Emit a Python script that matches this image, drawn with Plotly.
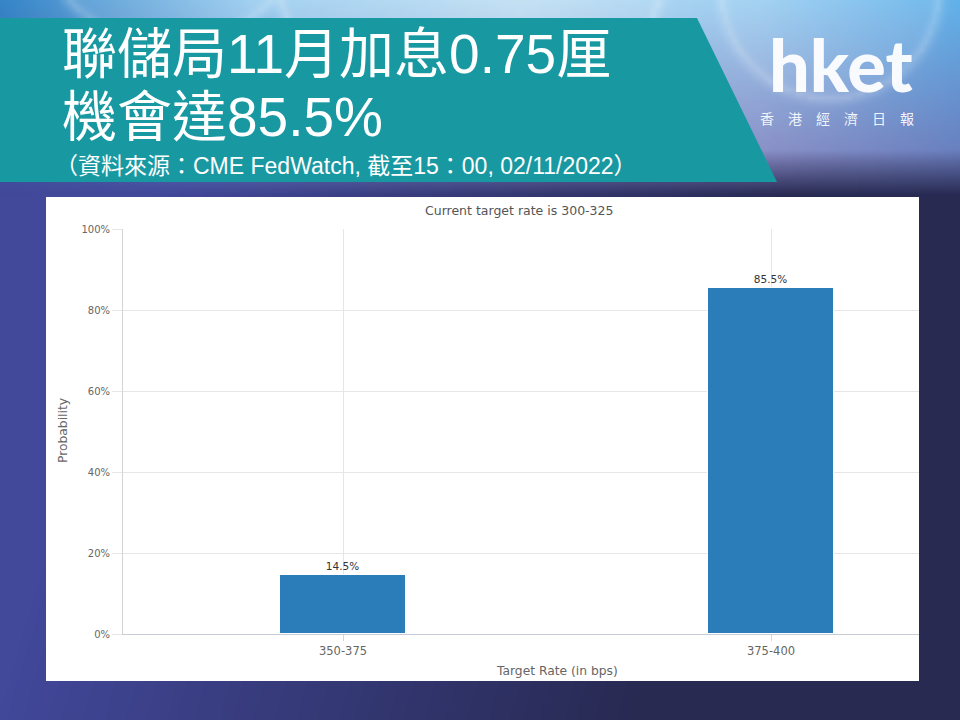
import base64
import struct
import zlib

import numpy as np
import plotly.graph_objects as go

W, H = 960, 720

# ---- chart data -------------------------------------------------------------
categories = ["350-375", "375-400"]
probabilities = [14.5, 85.5]
y_ticks = [0, 20, 40, 60, 80, 100]
y_tick_labels = ["0%", "20%", "40%", "60%", "80%", "100%"]

title_lines = ["聯儲局11月加息0.75厘", "機會達85.5%"]
source_note = "（資料來源：CME FedWatch, 截至15：00, 02/11/2022）"
chart_title = "Current target rate is 300-325"
x_title = "Target Rate (in bps)"
y_title = "Probability"
brand = "hket"
brand_sub = "香　港　經　濟　日　報"


# ---- helpers ----------------------------------------------------------------
def px(x):
    return x / W


def py(y):
    return 1 - y / H


def hex_rgb(h):
    return np.array([int(h[i:i + 2], 16) for i in (1, 3, 5)], float)


def interp_cols(xq, stops, cols):
    cols = np.array([hex_rgb(c) for c in cols])
    return np.stack([np.interp(xq, stops, cols[:, k]) for k in range(3)], axis=-1)


def backdrop(w=240, h=180):
    s = W / w
    xs = (np.arange(w) + 0.5) * s
    ys = (np.arange(h) + 0.5) * s
    X, Y = np.meshgrid(xs, ys)

    stops = [0, 250, 520, 760, 960]
    top = interp_cols(X, stops, ["#3585c8", "#9acdf0", "#c0e0f4", "#9ccff2", "#62b2ea"])
    mid = interp_cols(X, stops, ["#3c5aa0", "#6c84c4", "#8a8cc4", "#8a8cc4", "#6a7cbc"])
    tv = np.clip(Y / 165, 0, 1)[..., None]
    sky = top * (1 - tv) + mid * tv

    c0, c1 = hex_rgb("#42489a"), hex_rgb("#282a52")
    t = np.clip(X / 960 * 1.5 - 0.25 + (Y - 180) / 540 * 0.25, 0, 1)[..., None]
    low = c0 * (1 - t) + c1 * t

    b = np.clip((Y - 150) / 45, 0, 1)[..., None]
    img = sky * (1 - b) + low * b

    # soft bubbles in the sky
    for cx, cy, r, a in [(470, -60, 200, 0.18), (830, -10, 110, 0.16), (170, -95, 140, 0.16)]:
        d = np.hypot(X - cx, Y - cy)
        k = np.exp(-((d - r) / 6) ** 2) * a + (d < r) * a * 0.5
        k = np.clip(k, 0, 1)[..., None]
        img = img * (1 - k) + 255 * k

    return np.clip(img, 0, 255).astype(np.uint8)


def png_uri(arr):
    h, w, _ = arr.shape
    raw = b"".join(b"\x00" + arr[i].tobytes() for i in range(h))

    def chunk(tag, data):
        c = struct.pack(">I", len(data)) + tag + data
        return c + struct.pack(">I", zlib.crc32(tag + data) & 0xFFFFFFFF)

    png = (b"\x89PNG\r\n\x1a\n"
           + chunk(b"IHDR", struct.pack(">IIBBBBB", w, h, 8, 2, 0, 0, 0))
           + chunk(b"IDAT", zlib.compress(raw, 9))
           + chunk(b"IEND", b""))
    return "data:image/png;base64," + base64.b64encode(png).decode()


# ---- plot geometry (pixels) --------------------------------------------------
PLOT_L, PLOT_R = 123, 919
PLOT_T, PLOT_B = 229, 634
CAT0_X, CAT_STEP = 343, 428
x_lo = -(CAT0_X - PLOT_L) / CAT_STEP
x_hi = 1 + (PLOT_R - (CAT0_X + CAT_STEP)) / CAT_STEP

CHART_FONT = "DejaVu Sans, Verdana, sans-serif"
HEAD_FONT = "Liberation Sans, Arial, Noto Sans CJK TC, sans-serif"

fig = go.Figure()

fig.add_trace(go.Bar(
    x=list(range(len(categories))),
    y=probabilities,
    width=126 / CAT_STEP,
    marker=dict(color="#2b7db9", line=dict(color="#ffffff", width=1)),
    text=[f"{v}%" for v in probabilities],
    textposition="outside",
    textfont=dict(family=CHART_FONT, size=10.5, color="#333333"),
    cliponaxis=False,
    hoverinfo="skip",
))

fig.update_layout(
    width=W, height=H,
    margin=dict(l=0, r=0, t=0, b=0, pad=0, autoexpand=False),
    paper_bgcolor="#2c2f5a",
    plot_bgcolor="rgba(0,0,0,0)",
    showlegend=False,
    bargap=0,
    xaxis=dict(
        domain=[px(PLOT_L), px(PLOT_R)],
        range=[x_lo, x_hi],
        tickvals=list(range(len(categories))),
        ticktext=categories,
        showgrid=True, gridcolor="#e6e6e6", gridwidth=1,
        showline=True, linecolor="#c8ccd6", linewidth=1,
        ticks="outside", ticklen=6, tickcolor="#ccd6eb",
        tickfont=dict(family=CHART_FONT, size=11.5, color="#666666"),
        zeroline=False, fixedrange=True, automargin=False,
    ),
    yaxis=dict(
        domain=[py(PLOT_B), py(PLOT_T)],
        range=[0, 100],
        tickvals=y_ticks,
        ticktext=y_tick_labels,
        showgrid=True, gridcolor="#e6e6e6", gridwidth=1,
        showline=True, linecolor="#d4d4d4", linewidth=1,
        ticks="outside", ticklen=10, tickcolor="#e6e6e6",
        tickfont=dict(family=CHART_FONT, size=10, color="#666666"),
        zeroline=False, fixedrange=True, automargin=False,
    ),
    images=[dict(
        source=png_uri(backdrop()),
        xref="paper", yref="paper", x=0, y=1, sizex=1, sizey=1,
        xanchor="left", yanchor="top", sizing="stretch", layer="below",
    )],
    shapes=[
        # teal headline banner
        dict(type="path", xref="paper", yref="paper", layer="below",
             path=f"M 0,{py(18)} L {px(697)},{py(18)} L {px(777)},{py(182)} L 0,{py(182)} Z",
             fillcolor="#1899a2", line=dict(width=0)),
        # white chart panel
        dict(type="rect", xref="paper", yref="paper", layer="below",
             x0=px(46), x1=px(919), y0=py(681), y1=py(197),
             fillcolor="#ffffff", line=dict(width=0)),
    ],
)

annotations = [
    dict(text=title_lines[0], x=px(60), y=py(54), xanchor="left", yanchor="middle",
         font=dict(family=HEAD_FONT, size=55, color="#ffffff")),
    dict(text=title_lines[1], x=px(60), y=py(117), xanchor="left", yanchor="middle",
         font=dict(family=HEAD_FONT, size=55, color="#ffffff")),
    dict(text=source_note, x=px(53), y=py(166), xanchor="left", yanchor="middle",
         font=dict(family=HEAD_FONT, size=23, color="#ffffff")),
    dict(text=brand, x=px(841), y=py(64), xanchor="center", yanchor="middle",
         font=dict(family="Lato, Open Sans, sans-serif", size=72, color="rgba(255,255,255,0.94)",
                   weight=900)),
    dict(text=brand_sub, x=px(837), y=py(118.5), xanchor="center", yanchor="middle",
         font=dict(family="Noto Sans CJK TC, sans-serif", size=14, color="rgba(255,255,255,0.92)")),
    dict(text=chart_title, x=px(519), y=py(210), xanchor="center", yanchor="middle",
         font=dict(family=CHART_FONT, size=12.5, color="#555555")),
    dict(text=x_title, x=px(557), y=py(671), xanchor="center", yanchor="middle",
         font=dict(family=CHART_FONT, size=12.3, color="#666666")),
    dict(text=y_title, x=px(63), y=py(431), xanchor="center", yanchor="middle", textangle=-90,
         font=dict(family=CHART_FONT, size=12.3, color="#666666")),
]
for a in annotations:
    a.update(xref="paper", yref="paper", showarrow=False)
fig.update_layout(annotations=annotations)

fig.write_html("out.html", config={"displayModeBar": False})
